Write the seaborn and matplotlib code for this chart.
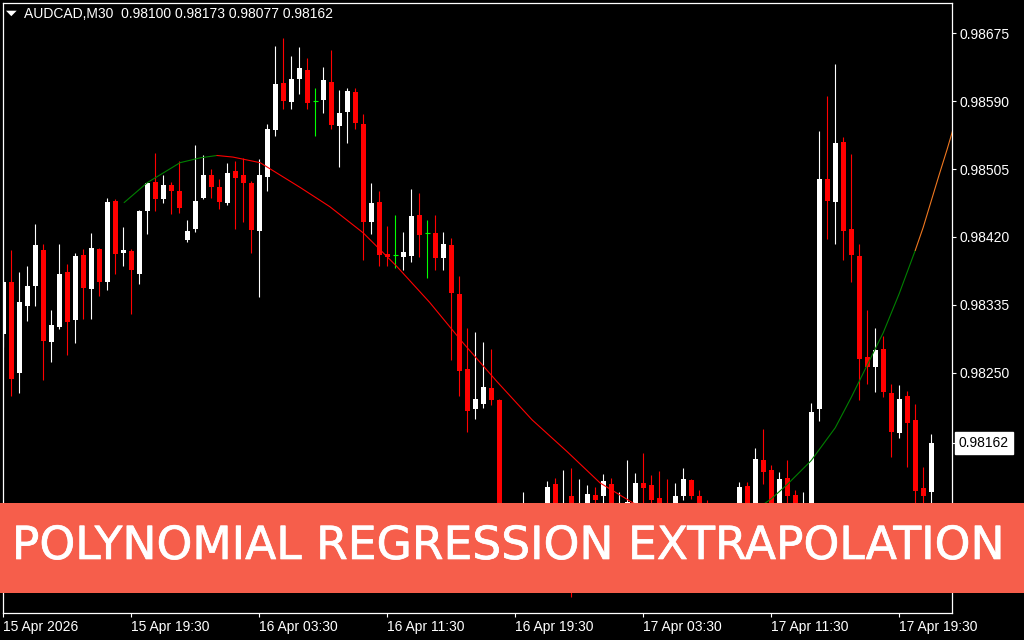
import numpy as np
import pandas as pd
import matplotlib
matplotlib.use("Agg")
import matplotlib.pyplot as plt
import matplotlib.transforms as mtransforms
from matplotlib.patches import Rectangle, Polygon
import matplotlib.patheffects as pe
import seaborn as sns

# ---------------- data ----------------
symbol = "AUDCAD,M30"
POINT = 1e-5  # price values below are in points (1e-5)

opens = [98299, 98364, 98249, 98333, 98358, 98404, 98289, 98307, 98376, 98316,
         98398, 98355, 98405, 98363, 98465, 98400, 98403, 98374, 98453, 98489,
         98467, 98485, 98477, 98416, 98430, 98469, 98498, 98483, 98462, 98502,
         98497, 98487, 98428, 98495, 98554, 98613, 98589, 98618, 98629, 98590,
         98592, 98614, 98559, 98577, 98602, 98562, 98439, 98464, 98399, 98398,
         98395, 98396, 98448, 98425, 98425, 98394, 98410, 98349, 98255, 98204,
         98211, 98231, 98216, 98035, 98056, 98041, 98072, 98051, 98060, 98111,
         98053, 98096, 98035, 98072, 98097, 98095, 98111, 98066, 98085, 98072,
         98112, 98110, 98093, 98078, 98066, 98096, 98116, 98096, 98072, 98053,
         98035, 98053, 98076, 98108, 98078, 98141, 98128, 98068, 98118, 98097,
         98068, 98083, 98205, 98493, 98464, 98539, 98430, 98396, 98270, 98257,
         98280, 98225, 98175, 98221, 98191, 98106, 98100]
highs = [98366, 98404, 98376, 98384, 98436, 98411, 98328, 98411, 98386, 98400,
         98405, 98425, 98406, 98469, 98467, 98432, 98405, 98454, 98489, 98525,
         98497, 98489, 98515, 98441, 98535, 98522, 98505, 98492, 98512, 98515,
         98519, 98490, 98517, 98562, 98659, 98669, 98646, 98658, 98644, 98607,
         98633, 98654, 98604, 98607, 98607, 98574, 98487, 98478, 98434, 98448,
         98426, 98480, 98475, 98441, 98448, 98426, 98419, 98371, 98306, 98301,
         98289, 98280, 98217, 98066, 98072, 98101, 98081, 98085, 98115, 98118,
         98128, 98131, 98117, 98110, 98107, 98123, 98118, 98101, 98141, 98125,
         98150, 98122, 98127, 98117, 98112, 98131, 98117, 98103, 98091, 98066,
         98072, 98083, 98113, 98113, 98156, 98180, 98135, 98126, 98141, 98103,
         98101, 98212, 98553, 98596, 98636, 98545, 98524, 98411, 98328, 98306,
         98296, 98236, 98235, 98227, 98211, 98132, 98173]
lows = [98282, 98221, 98224, 98315, 98334, 98241, 98264, 98305, 98272, 98287,
        98317, 98317, 98346, 98353, 98373, 98384, 98323, 98361, 98424, 98452,
        98462, 98449, 98450, 98414, 98426, 98467, 98469, 98455, 98460, 98430,
        98439, 98400, 98345, 98478, 98547, 98580, 98580, 98599, 98580, 98547,
        98575, 98555, 98507, 98537, 98555, 98391, 98424, 98383, 98383, 98381,
        98379, 98388, 98395, 98368, 98378, 98378, 98266, 98221, 98176, 98192,
        98206, 98210, 98031, 98016, 98026, 98031, 98035, 98041, 98053, 98060,
        98041, 97969, 98022, 98066, 98078, 98081, 98068, 98060, 98076, 98066,
        98081, 98078, 98063, 98051, 98056, 98090, 98092, 98063, 98041, 98022,
        98026, 98047, 98068, 98072, 98072, 98111, 98063, 98060, 98078, 98066,
        98060, 98076, 98189, 98418, 98411, 98391, 98363, 98216, 98236, 98226,
        98220, 98145, 98168, 98132, 98083, 98085, 98077]
closes = [98364, 98242, 98338, 98358, 98410, 98290, 98310, 98374, 98314, 98396,
          98356, 98406, 98363, 98464, 98399, 98404, 98378, 98453, 98487, 98468,
          98485, 98477, 98456, 98428, 98465, 98497, 98483, 98464, 98500, 98494,
          98487, 98429, 98498, 98555, 98612, 98590, 98618, 98632, 98588, 98590,
          98616, 98560, 98575, 98603, 98563, 98439, 98462, 98398, 98395, 98398,
          98401, 98446, 98423, 98425, 98393, 98411, 98350, 98252, 98202, 98217,
          98232, 98216, 98041, 98056, 98043, 98072, 98053, 98078, 98107, 98076,
          98081, 98016, 98078, 98098, 98091, 98115, 98078, 98083, 98088, 98112,
          98106, 98090, 98072, 98060, 98096, 98117, 98096, 98072, 98053, 98035,
          98053, 98076, 98107, 98081, 98142, 98126, 98072, 98117, 98095, 98076,
          98085, 98201, 98492, 98465, 98538, 98428, 98398, 98267, 98257, 98279,
          98226, 98176, 98217, 98187, 98102, 98096, 98162]

# polynomial regression curve (bar index -> value, points)
fit_idx = [15.1, 18.0, 22.1, 24.6, 26.7, 28.7, 32.1, 37.1, 40.8, 45.0, 49.2, 53.3,
           57.5, 61.7, 66.1, 70.5, 74.6, 78.7, 83, 87, 91, 94, 96, 98, 101, 104,
           106, 110, 112, 114, 115, 116, 117, 118, 119]
fit_val = [98463, 98488, 98513, 98519, 98522, 98520, 98513, 98482, 98458, 98425,
           98383, 98338, 98287, 98239, 98191, 98151, 98112, 98087, 98068, 98058,
           98066, 98078, 98092, 98110, 98140, 98181, 98219, 98300, 98349, 98403,
           98432, 98465, 98498, 98530, 98564]
forecast_from = 114

time_tick_idx = [0, 16, 32, 48, 64, 80, 96, 112]
time_tick_labels = ["15 Apr 2026", "15 Apr 19:30", "16 Apr 03:30", "16 Apr 11:30",
                    "16 Apr 19:30", "17 Apr 03:30", "17 Apr 11:30", "17 Apr 19:30"]
price_ticks = [0.98675, 0.98590, 0.98505, 0.98420, 0.98335, 0.98250, 0.98080, 0.97995]
banner_text = "POLYNOMIAL REGRESSION EXTRAPOLATION"

# ---------------- style ----------------
sns.set_style("dark", {"axes.facecolor": "black", "figure.facecolor": "black"})
plt.rcParams['font.family'] = ['Liberation Sans', 'DejaVu Sans']

W, H = 1024, 640
fig = plt.figure(figsize=(W / 100, H / 100), dpi=100, facecolor="black")
ax = fig.add_axes([2.7 / W, (H - 613) / H, (952 - 2.7) / W, (613 - 2.7) / H])
ax.set_facecolor("black")

o = np.array(opens) * POINT
h = np.array(highs) * POINT
l = np.array(lows) * POINT
c = np.array(closes) * POINT
idx = np.arange(len(o))

UP, DOWN, DOJI = "#ffffff", "#ff0000", "#00ff00"
col = np.where(c > o, UP, np.where(c < o, DOWN, DOJI))
body_w = 0.62

ax.vlines(idx, l, h, colors=col, linewidth=0.8, zorder=2)
nd = c != o
ax.bar(idx[nd], np.abs(c - o)[nd], bottom=np.minimum(o, c)[nd], width=body_w,
       color=col[nd], linewidth=0, zorder=3)
ax.hlines(o[~nd], idx[~nd] - body_w / 2, idx[~nd] + body_w / 2, colors=DOJI,
          linewidth=0.8, zorder=3)

# regression curve segments coloured by direction / forecast
GREEN, RED, ORANGE = "#008000", "#ff0000", "#f07820"
fx = np.array(fit_idx, float)
fy = np.array(fit_val) * POINT
seg_cols = []
for k in range(len(fx) - 1):
    if fx[k] >= forecast_from:
        seg_cols.append(ORANGE)
    elif fy[k + 1] >= fy[k]:
        seg_cols.append(GREEN)
    else:
        seg_cols.append(RED)
rows, palette = [], {}
seg, start = 0, 0
for k in range(1, len(seg_cols) + 1):
    if k == len(seg_cols) or seg_cols[k] != seg_cols[k - 1]:
        name = f"s{seg}"
        for j in range(start, k + 1):
            rows.append((name, fx[j], fy[j]))
        palette[name] = seg_cols[k - 1]
        seg += 1
        start = k
df = pd.DataFrame(rows, columns=["seg", "idx", "val"])
sns.lineplot(data=df, x="idx", y="val", hue="seg", palette=palette, estimator=None,
             legend=False, linewidth=0.8, ax=ax, zorder=4)
ax.set_xlabel("")
ax.set_ylabel("")

ax.set_xlim(-0.08, 118.6)
ax.set_ylim(0.979491, 0.987133)

# axes frame
for s in ax.spines.values():
    s.set_color("white")
    s.set_linewidth(0.9)
ax.grid(False)

# y axis on right
ax.yaxis.tick_right()
last_close = c[-1]
ax.set_yticks(price_ticks + [last_close])
ax.set_yticklabels([f"{v:.5f}" for v in price_ticks] + [""])
ax.tick_params(axis="y", which="both", direction="out", length=3, width=0.8,
               color="white", labelcolor="white", labelsize=10, pad=2.2,
               left=False, right=True)
ax.tick_params(axis="x", direction="out", length=3, width=0.8, color="white",
               labelcolor="white", labelsize=10, pad=2, bottom=True)
ax.set_xticks(time_tick_idx)
ax.set_xticklabels(time_tick_labels, ha="left")

# current price label
tr = mtransforms.blended_transform_factory(ax.transAxes, ax.transData)
ax.text(1.0 + 6.5 / 949.3, last_close, f"{last_close:.5f}", transform=tr,
        ha="left", va="center", fontsize=10, color="black", clip_on=False,
        bbox=dict(boxstyle="square,pad=0.28", fc="white", ec="white"), zorder=6)

# header
fig.add_artist(Polygon([[6 / W, 1 - 10.7 / H], [16.7 / W, 1 - 10.7 / H],
                        [11.3 / W, 1 - 16.2 / H]], closed=True,
                       transform=fig.transFigure, fc="white", ec="none", zorder=5))
fig.text(24 / W, 1 - 14.5 / H,
         f"{symbol}  {o[-1]:.5f} {h[-1]:.5f} {l[-1]:.5f} {c[-1]:.5f}",
         ha="left", va="center", fontsize=10, color="white", zorder=5)

# banner
fig.add_artist(Rectangle((0, (H - 593) / H), 1, 90 / H, transform=fig.transFigure,
                         fc="#f65e4b", ec="none", zorder=10))
fig.text(507.5 / W, 1 - 546.5 / H, banner_text, ha="center", va="center",
         fontsize=32.8, color="white", family="DejaVu Sans", zorder=11,
         path_effects=[pe.withStroke(linewidth=0.5, foreground="white")])

fig.savefig("out.png", dpi=100, facecolor="black")
